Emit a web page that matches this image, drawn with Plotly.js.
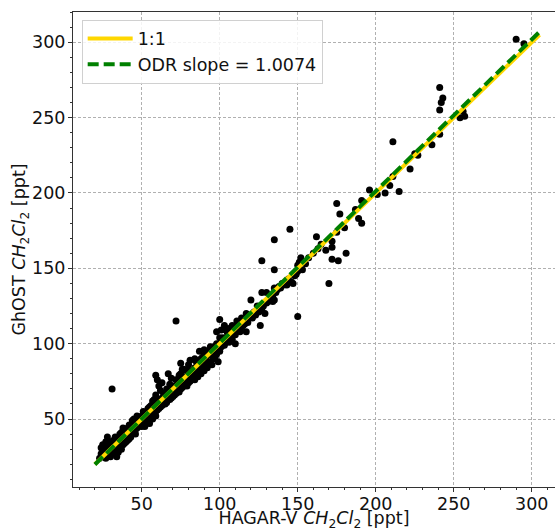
<!DOCTYPE html>
<html>
<head>
<meta charset="utf-8">
<script src="https://cdn.plot.ly/plotly-3.0.1.min.js"></script>
<style>html,body{margin:0;padding:0;background:#fff;}#chart{width:555px;height:531px;}</style>
</head>
<body>
<div id="chart"></div>
<script>
// HAGAR-V (x) vs GhOST (y) CH2Cl2 [ppt], pairs
const hagarGhostPairs = [
  [23,24],[24,27],[24,31],[25,26],[25,29],[25,33],[26,25],[26,28],[26,32],[27,24],[27,30],[27,35],
  [28,27],[28,33],[28,38],[29,26],[29,31],[29,34],[30,25],[30,29],[30,35],[31,28],[31,33],[31,70],
  [32,27],[32,30],[32,36],[33,28],[33,34],[33,38],[34,25],[34,32],[34,37],[35,28],[35,31],[35,35],
  [36,32],[36,38],[36,40],[37,30],[37,34],[37,41],[38,33],[38,36],[38,44],[39,34],[39,37],[39,40],
  [40,35],[40,38],[40,42],[41,36],[41,39],[41,44],[42,37],[42,41],[42,46],[43,38],[43,40],[43,44],
  [44,42],[44,47],[44,49],[45,41],[45,45],[45,50],[46,40],[46,43],[46,47],[47,44],[47,49],[47,52],
  [48,45],[48,47],[48,51],[49,46],[49,49],[50,45],[50,48],[50,52],[51,47],[51,50],[51,55],[52,45],
  [52,48],[52,52],[53,47],[53,49],[53,54],[54,50],[54,52],[54,57],[55,47],[55,50],[55,54],[55,58],
  [56,50],[56,52],[56,55],[56,59],[57,50],[57,53],[57,57],[57,62],[58,52],[58,54],[58,56],[58,60],
  [58,63],[59,52],[59,55],[59,58],[59,66],[59,79],[60,56],[60,60],[60,63],[60,76],[61,57],[61,61],
  [61,72],[62,58],[62,62],[62,69],[63,59],[63,64],[63,74],[64,60],[64,63],[64,67],[65,60],[65,62],
  [65,66],[66,61],[66,65],[66,70],[67,63],[67,66],[67,80],[68,63],[68,68],[68,73],[69,64],[69,67],
  [69,77],[70,65],[70,69],[70,72],[71,66],[71,70],[72,67],[72,72],[72,76],[72,115],[73,68],[73,71],
  [73,76],[74,68],[74,73],[74,79],[75,70],[75,74],[75,80],[75,87],[76,71],[76,75],[76,83],[77,72],
  [77,77],[77,83],[78,73],[78,78],[79,72],[79,76],[79,82],[80,74],[80,80],[80,86],[81,75],[81,79],
  [81,89],[82,76],[82,82],[83,77],[83,80],[84,76],[84,84],[84,90],[85,78],[85,82],[85,88],[86,78],
  [86,85],[87,80],[87,86],[87,95],[88,80],[88,83],[88,90],[89,82],[89,88],[89,91],[90,82],[90,86],
  [90,92],[90,96],[91,84],[91,90],[92,84],[92,87],[92,95],[93,86],[93,93],[94,88],[94,98],[95,86],
  [95,92],[96,90],[96,98],[97,91],[97,96],[98,93],[98,100],[98,108],[99,88],[99,96],[100,95],[100,99],
  [100,104],[100,116],[101,98],[101,109],[102,100],[102,104],[103,99],[103,112],[104,102],[104,109],
  [105,104],[105,107],[106,101],[106,110],[107,105],[107,108],[108,103],[108,112],[109,107],[110,100],
  [110,106],[110,110],[111,115],[112,109],[112,113],[113,108],[113,112],[114,111],[114,117],[115,112],
  [115,115],[116,113],[117,108],[117,120],[118,114],[118,116],[119,117],[120,119],[120,129],[121,117],
  [122,121],[123,119],[124,125],[125,121],[126,112],[126,124],[127,122],[127,134],[128,125],[129,120],
  [130,127],[130,134],[131,128],[132,129],[133,131],[134,128],[134,132],[135,129],[135,137],[136,134],
  [137,136],[138,138],[139,137],[140,140],[141,139],[143,139],[144,143],[146,141],[147,140],[148,145],
  [149,146],[150,148],[150,152],[151,154],[152,157],[153,149],[127,155],[135,149],[135,169],[145,176],
  [150,118],[155,153],[157,157],[160,160],[162,171],[163,163],[165,166],[168,162],[170,140],[172,156],
  [172,164],[172,168],[175,174],[175,193],[176,155],[177,186],[180,177],[181,160],[187,189],[189,183],
  [191,180],[191,195],[196,202],[201,199],[206,200],[209,205],[211,211],[211,234],[215,201],[222,216],
  [225,226],[227,225],[236,232],[241,239],[241,255],[242,260],[243,263],[241,270],[254,250],[256,254],
  [257,251],[290,302],[295,299]
];
const hagarV = hagarGhostPairs.map(p => p[0]);
const ghost = hagarGhostPairs.map(p => p[1]);

// reference lines
const lineX = [20, 305];
const oneToOneY = [20, 305];
const odrSlope = 1.0074;
const odrIntercept = -0.3;
const odrY = lineX.map(v => odrSlope * v + odrIntercept);

const xTicks = [50, 100, 150, 200, 250, 300];
const yTicks = [50, 100, 150, 200, 250, 300];

const FAMILY = 'DejaVu Sans';
function mkFont(size) { return {family: FAMILY, size: size, color: '#111'}; }

const traces = [
  {x: hagarV, y: ghost, type: 'scatter', mode: 'markers', showlegend: false,
   marker: {color: '#000', size: 7, line: {width: 0}}},
  {x: lineX, y: oneToOneY, type: 'scatter', mode: 'lines', name: '1:1',
   line: {color: '#FFD700', width: 4}},
  {x: lineX, y: odrY, type: 'scatter', mode: 'lines', name: 'ODR slope = ' + odrSlope.toFixed(4),
   line: {color: '#008000', width: 4, dash: '11px,5px'}}
];

function axisCommon() {
  return {
    showline: true, linecolor: '#333', linewidth: 1,
    ticks: 'outside', ticklen: 4, tickwidth: 1, tickcolor: '#333',
    showgrid: true, gridcolor: '#b0b0b0', griddash: '3px,2px', gridwidth: 1,
    zeroline: false, tickfont: mkFont(17.5),
    minor: {tick0: 0, dtick: 10, ticks: 'outside', ticklen: 2, tickwidth: 1, tickcolor: '#333', showgrid: false}
  };
}

const layout = {
  width: 555, height: 531,
  margin: {l: 73, r: 0, t: 12, b: 44},
  paper_bgcolor: '#fff', plot_bgcolor: '#fff',
  font: mkFont(17.5),
  showlegend: true,
  legend: {x: 0.018, y: 0.984, xanchor: 'left', yanchor: 'top',
    bgcolor: 'rgba(255,255,255,0.85)', bordercolor: '#d0d0d0', borderwidth: 1,
    font: mkFont(17.5), itemwidth: 45, tracegroupgap: 0},
  xaxis: Object.assign(axisCommon(), {
    range: [5.96, 314.9], tickvals: xTicks, ticktext: xTicks.map(String), mirror: true,
    ticklabelstandoff: -3,
    title: {text: 'HAGAR-V <i>CH</i><sub>2</sub><i>Cl</i><sub>2</sub> [ppt]', font: mkFont(17.5), standoff: 5}
  }),
  yaxis: Object.assign(axisCommon(), {
    range: [4.9, 320.1], tickvals: yTicks, ticktext: yTicks.map(String),
    ticklabelstandoff: -1,
    title: {text: 'GhOST <i>CH</i><sub>2</sub><i>Cl</i><sub>2</sub> [ppt]', font: mkFont(17.5), standoff: 0}
  })
};

Plotly.newPlot('chart', traces, layout, {displayModeBar: false, staticPlot: true});
</script>
</body>
</html>
